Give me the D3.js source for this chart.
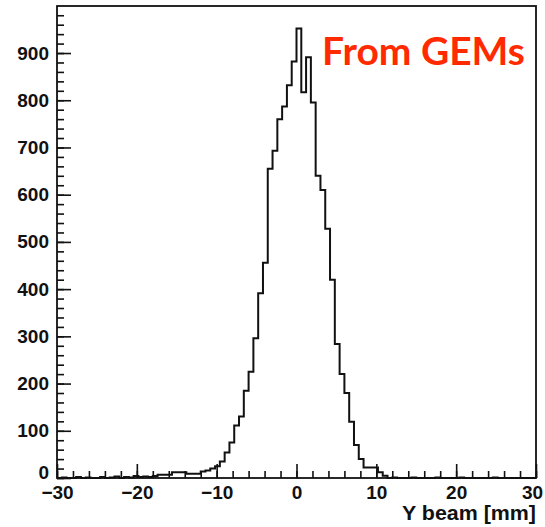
<!DOCTYPE html>
<html>
<head>
<meta charset="utf-8">
<script src="https://cdn.jsdelivr.net/npm/d3@7"></script>
<style>
  html, body { margin: 0; padding: 0; background: #fff; }
  svg { display: block; }
  .tick text { font-family: "Liberation Sans", Arial, sans-serif; font-weight: bold; }
</style>
</head>
<body>
<svg id="chart" width="545" height="527"></svg>
<script>
// Histogram of the beam Y position: 100 bins of 0.6 mm from -30 to 30 mm
const binEdgesRange = [-30, 30];
const binWidth = 0.6;
const counts = [
  // -30.0 .. -18.6
  0, 1, 0, 0, 2, 0, 1, 0, 0, 2, 0, 1, 3, 0, 2, 1, 4, 2, 3, 2,
  // -18.0 .. -6.6
  4, 7, 7, 7, 12, 12, 12, 9, 9, 9, 14, 16, 20, 25, 35, 54, 75, 111, 130, 185,
  // -6.0 .. 5.4
  225, 296, 391, 456, 655, 693, 760, 787, 832, 882, 952, 817, 891, 795, 640, 610, 528, 420, 284, 220,
  // 6.0 .. 17.4
  180, 119, 70, 40, 22, 22, 22, 12, 5, 0, 1, 0, 0, 0, 1, 0, 0, 0, 0, 1,
  // 18.0 .. 29.4
  0, 0, 0, 0, 1, 0, 0, 0, 0, 0, 0, 1, 0, 0, 0, 0, 0, 0, 0, 0
];
const xTickValues = [-30, -20, -10, 0, 10, 20, 30];
const yTickValues = [0, 100, 200, 300, 400, 500, 600, 700, 800, 900];
const xAxisTitle = "Y beam [mm]";
const annotation = "From GEMs";

const svg = d3.select("#chart");
const frame = { left: 57, right: 536, top: 6, bottom: 478 };

const x = d3.scaleLinear().domain(binEdgesRange).range([frame.left, frame.right]);
const yMax = 1.05 * d3.max(counts);
const y = d3.scaleLinear().domain([0, yMax]).range([frame.bottom, frame.top]);

// Minor ticks (every 2 mm / every 20 entries), drawn inside the frame
const xMinor = d3.range(-30, 30.001, 2);
const yMinor = d3.range(0, yMax, 20);

svg.append("g")
  .attr("transform", `translate(0,${frame.bottom})`)
  .call(d3.axisBottom(x).tickValues(xMinor).tickSize(-7).tickFormat(""))
  .call(g => g.select(".domain").remove());
svg.append("g")
  .attr("transform", `translate(${frame.left},0)`)
  .call(d3.axisLeft(y).tickValues(yMinor).tickSize(-7).tickFormat(""))
  .call(g => g.select(".domain").remove());

// Major ticks with labels
const xAxis = svg.append("g")
  .attr("transform", `translate(0,${frame.bottom})`)
  .call(d3.axisBottom(x).tickValues(xTickValues).tickSize(-14).tickPadding(8).tickFormat(d3.format("d")));
xAxis.select(".domain").remove();
xAxis.selectAll("text")
  .attr("font-size", 19)
  .attr("fill", "#111")
  .attr("x", d => d === 30 ? -4 : 0);

const yAxis = svg.append("g")
  .attr("transform", `translate(${frame.left},0)`)
  .call(d3.axisLeft(y).tickValues(yTickValues).tickSize(-14).tickPadding(8).tickFormat(d3.format("d")));
yAxis.select(".domain").remove();
yAxis.selectAll("text")
  .attr("font-size", 19)
  .attr("fill", "#111")
  .attr("dy", d => d === 0 ? "0em" : "0.32em");

svg.selectAll(".tick line").attr("stroke", "#111").attr("stroke-width", 1.6);

// Histogram outline as a step line
const pts = [];
counts.forEach((c, i) => {
  const x0 = binEdgesRange[0] + i * binWidth;
  pts.push([x0, c], [x0 + binWidth, c]);
});
pts.unshift([binEdgesRange[0], 0]);
pts.push([binEdgesRange[1], 0]);

svg.append("path")
  .datum(pts)
  .attr("fill", "none")
  .attr("stroke", "#111")
  .attr("stroke-width", 2)
  .attr("stroke-linejoin", "miter")
  .attr("d", d3.line().x(d => x(d[0])).y(d => y(d[1])));

// Frame
svg.append("rect")
  .attr("x", frame.left).attr("y", frame.top)
  .attr("width", frame.right - frame.left).attr("height", frame.bottom - frame.top)
  .attr("fill", "none").attr("stroke", "#111").attr("stroke-width", 1.8);

// Axis title
svg.append("text")
  .attr("x", frame.right).attr("y", 520)
  .attr("text-anchor", "end")
  .attr("font-family", "'Liberation Sans', Arial, sans-serif")
  .attr("font-weight", "bold")
  .attr("font-size", 20)
  .attr("textLength", 134)
  .attr("lengthAdjust", "spacingAndGlyphs")
  .attr("fill", "#111")
  .text(xAxisTitle);

// Annotation
svg.append("text")
  .attr("x", 322).attr("y", 65)
  .attr("font-family", "Lato, 'Open Sans', sans-serif")
  .attr("font-weight", "bold")
  .attr("font-size", 38)
  .attr("textLength", 203)
  .attr("lengthAdjust", "spacingAndGlyphs")
  .attr("fill", "#ff2a00")
  .text(annotation);
</script>
</body>
</html>
